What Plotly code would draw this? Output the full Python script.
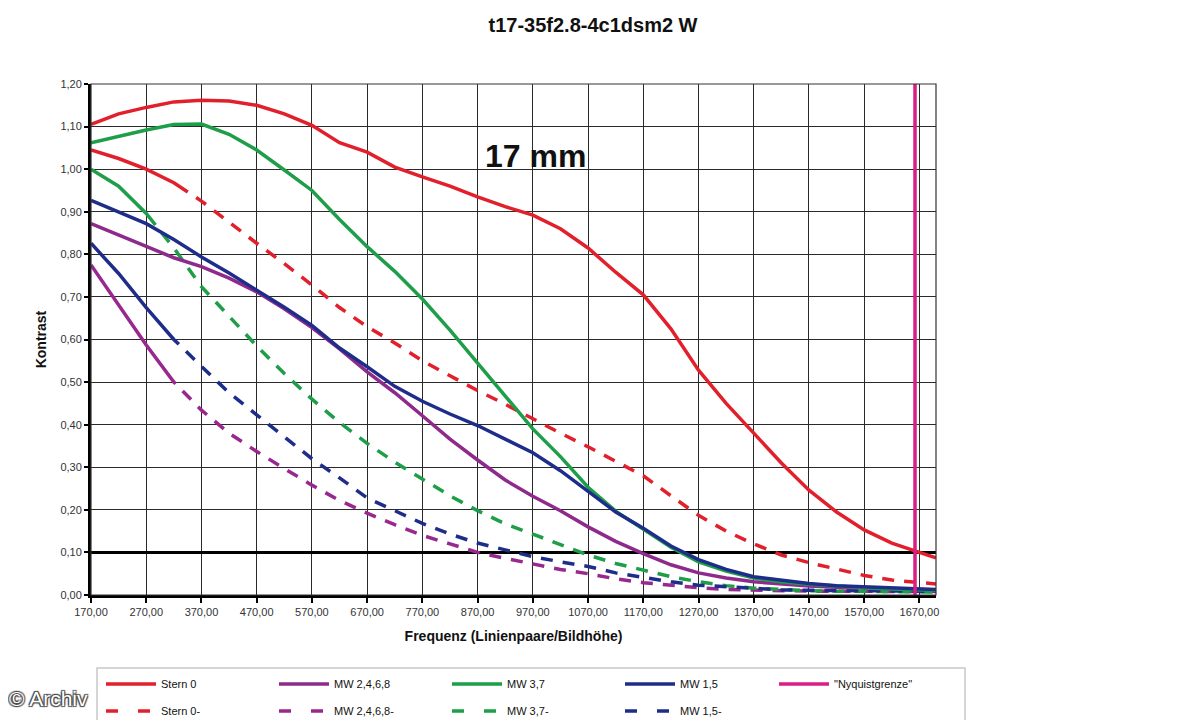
import plotly.graph_objects as go

# ---------------- data ----------------
freq = [170, 220, 270, 320, 370, 420, 470, 520, 570, 620, 670, 720, 770, 820, 870, 920,
        970, 1020, 1070, 1120, 1170, 1220, 1270, 1320, 1370, 1420, 1470, 1520, 1570, 1620,
        1670, 1700]

stern0 = [1.105, 1.13, 1.145, 1.158, 1.162, 1.16, 1.15, 1.13, 1.103, 1.062, 1.04, 1.005,
          0.982, 0.96, 0.935, 0.912, 0.892, 0.86, 0.815, 0.758, 0.705, 0.625, 0.528, 0.45,
          0.38, 0.31, 0.246, 0.195, 0.153, 0.122, 0.1, 0.087]
stern0_minus = [1.045, 1.025, 1.0, 0.968, 0.925, 0.875, 0.826, 0.778, 0.728, 0.675, 0.63,
                0.592, 0.55, 0.515, 0.48, 0.448, 0.413, 0.38, 0.348, 0.315, 0.28, 0.233,
                0.187, 0.15, 0.12, 0.094, 0.076, 0.061, 0.046, 0.035, 0.029, 0.026]
mw37 = [1.062, 1.078, 1.092, 1.105, 1.106, 1.082, 1.045, 0.998, 0.95, 0.882, 0.818, 0.76,
        0.695, 0.622, 0.544, 0.468, 0.39, 0.325, 0.253, 0.197, 0.155, 0.112, 0.078, 0.056,
        0.04, 0.031, 0.025, 0.02, 0.017, 0.014, 0.012, 0.011]
mw37_minus = [1.0, 0.96, 0.896, 0.815, 0.724, 0.655, 0.585, 0.52, 0.46, 0.405, 0.356, 0.312,
              0.273, 0.233, 0.198, 0.167, 0.143, 0.118, 0.094, 0.074, 0.058, 0.043, 0.031,
              0.022, 0.016, 0.012, 0.01, 0.009, 0.008, 0.008, 0.007, 0.007]
mw15 = [0.927, 0.9, 0.872, 0.835, 0.794, 0.756, 0.716, 0.676, 0.633, 0.58, 0.536, 0.49,
        0.455, 0.425, 0.398, 0.366, 0.334, 0.292, 0.244, 0.195, 0.157, 0.115, 0.083, 0.06,
        0.043, 0.034, 0.027, 0.022, 0.019, 0.016, 0.014, 0.013]
mw15_minus = [0.826, 0.755, 0.675, 0.6, 0.537, 0.475, 0.423, 0.372, 0.32, 0.275, 0.228, 0.198,
              0.168, 0.143, 0.122, 0.106, 0.09, 0.078, 0.067, 0.052, 0.041, 0.031, 0.023,
              0.019, 0.015, 0.012, 0.011, 0.01, 0.01, 0.009, 0.009, 0.009]
mw2468 = [0.872, 0.845, 0.818, 0.792, 0.771, 0.744, 0.712, 0.672, 0.628, 0.578, 0.524, 0.475,
          0.421, 0.366, 0.317, 0.27, 0.232, 0.198, 0.16, 0.126, 0.097, 0.071, 0.052, 0.04,
          0.031, 0.025, 0.021, 0.018, 0.016, 0.014, 0.012, 0.012]
mw2468_minus = [0.775, 0.68, 0.587, 0.5, 0.434, 0.38, 0.337, 0.297, 0.258, 0.222, 0.192,
                0.165, 0.14, 0.12, 0.1, 0.086, 0.072, 0.06, 0.05, 0.038, 0.029, 0.022, 0.017,
                0.013, 0.011, 0.01, 0.009, 0.009, 0.008, 0.008, 0.008, 0.008]

nyquist_freq = 1662
threshold = 0.10

x_tick_vals = list(range(170, 1671, 100))
x_tick_text = [f"{v},00" for v in x_tick_vals]
y_tick_vals = [i / 10 for i in range(13)]
y_tick_text = [f"{v:.2f}".replace(".", ",") for v in y_tick_vals]

# ---------------- style ----------------
RED = "#E2202C"
PURPLE = "#8E2A8C"
PURPLE_D = "#98288E"
GREEN = "#1E9E48"
BLUE = "#1F2D8A"
MAGENTA = "#D91E84"
FONT = "Liberation Sans, Arial, sans-serif"


def dash_after(solid_px):
    return f"{solid_px}px,10px," + ",".join(["12px,10px"] * 70)


fig = go.Figure()

# threshold line
fig.add_trace(go.Scatter(x=[freq[0], freq[-1]], y=[threshold, threshold], mode="lines",
                         line=dict(color="black", width=3), showlegend=False,
                         hoverinfo="skip"))

dashed = [
    ("Stern 0-", stern0_minus, RED, 106),
    ("MW 2,4,6,8-", mw2468_minus, PURPLE_D, 146),
    ("MW 3,7-", mw37_minus, GREEN, 86),
    ("MW 1,5-", mw15_minus, BLUE, 134),
]
for i, (name, ys, col, solid) in enumerate(dashed):
    fig.add_trace(go.Scatter(x=freq, y=ys, name=name, mode="lines", legendgroup=name,
                             line=dict(color=col, width=3.5, dash=dash_after(solid)),
                             showlegend=False))
    # legend entry (plain dashed sample)
    fig.add_trace(go.Scatter(x=[None], y=[None], name=name, mode="lines", legendgroup=name,
                             line=dict(color=col, width=3.5, dash="12px,20px"),
                             legend="legend2", legendrank=i + 1))

solids = [
    ("Stern 0", stern0, RED),
    ("MW 2,4,6,8", mw2468, PURPLE),
    ("MW 3,7", mw37, GREEN),
    ("MW 1,5", mw15, BLUE),
]
for i, (name, ys, col) in enumerate(solids):
    fig.add_trace(go.Scatter(x=freq, y=ys, name=name, mode="lines",
                             line=dict(color=col, width=3.5), legend="legend",
                             legendrank=i + 1))

fig.add_trace(go.Scatter(x=[nyquist_freq, nyquist_freq], y=[0, 1.2], name="\"Nyquistgrenze\"",
                         mode="lines", line=dict(color=MAGENTA, width=3.5),
                         legend="legend3"))

legend_common = dict(orientation="h", xanchor="left", yanchor="middle",
                     bgcolor="rgba(0,0,0,0)", borderwidth=0, entrywidth=108,
                     entrywidthmode="pixels", font=dict(family=FONT, size=11, color="#111"),
                     itemwidth=50, traceorder="normal")

W, H = 1191, 712   # page adds an 8px body margin
fig.update_layout(
    width=W, height=H,
    paper_bgcolor="white", plot_bgcolor="white",
    margin=dict(l=83, r=263, t=76, b=125, autoexpand=False),
    title=dict(text="<b>t17-35f2.8-4c1dsm2 W</b>", x=585 / W, xanchor="center",
               y=1 - 17 / H, yanchor="middle",
               font=dict(family=FONT, size=20, color="#111")),
    legend=dict(x=(101 - 91) / 845, y=(595 - 684) / 511, **legend_common),
    legend2=dict(x=(101 - 91) / 845, y=(595 - 711) / 511, **legend_common),
    legend3=dict(x=(774 - 91) / 845, y=(595 - 684) / 511, **legend_common),
    xaxis=dict(range=[170, 1700], tickvals=x_tick_vals, ticktext=x_tick_text,
               showgrid=True, gridcolor="#2a2a2a", gridwidth=1.2, zeroline=False,
               showline=True, linecolor="black", linewidth=3,
               ticks="outside", ticklen=5, tickwidth=2, tickcolor="black",
               tickfont=dict(family=FONT, size=11, color="#333"),
               title=dict(text="<b>Frequenz (Linienpaare/Bildhöhe)</b>",
                          font=dict(family=FONT, size=14, color="#111"), standoff=14)),
    yaxis=dict(range=[0, 1.2], tickvals=y_tick_vals, ticktext=y_tick_text,
               showgrid=True, gridcolor="#2a2a2a", gridwidth=1.2, zeroline=False,
               showline=True, linecolor="black", linewidth=3,
               ticks="outside", ticklen=4, tickwidth=2, tickcolor="black",
               tickfont=dict(family=FONT, size=11, color="#333"),
               title=dict(text="<b>Kontrast</b>",
                          font=dict(family=FONT, size=14, color="#111"), standoff=11)),
    shapes=[
        dict(type="rect", xref="paper", yref="paper", x0=0, x1=1, y0=0, y1=1,
             line=dict(color="#333", width=1.2), layer="above"),
        dict(type="rect", xref="paper", yref="paper",
             x0=(97 - 91) / 845, x1=(965 - 91) / 845,
             y0=(595 - 668) / 511, y1=(595 - 740) / 511,
             line=dict(color="#c8c8c8", width=1.5), fillcolor="rgba(0,0,0,0)"),
    ],
    annotations=[
        dict(text="<b>17 mm</b>", x=974, y=1.03, xref="x", yref="y", showarrow=False,
             font=dict(family=FONT, size=32, color="#111")),
        dict(text="© Archiv", xref="paper", yref="paper", x=(7 - 91) / 845,
             y=(595 - 698) / 511, xanchor="left", yanchor="middle", showarrow=False,
             font=dict(family=FONT, size=21, color="white",
                       shadow="1px 1px 1px #444, -1px -1px 1px #444, 1px -1px 1px #444, -1px 1px 1px #444")),
    ],
)

fig.write_html("out.html")
